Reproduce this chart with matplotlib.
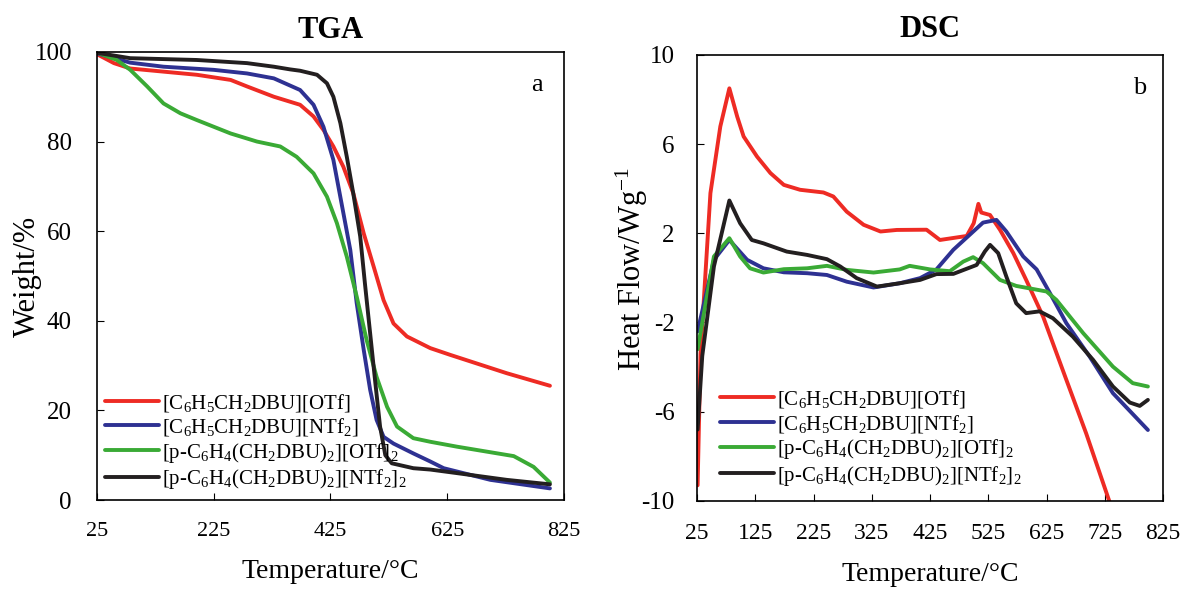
import numpy as np
import matplotlib.pyplot as plt

plt.rcParams['font.family'] = ['Liberation Serif', 'DejaVu Serif']
plt.rcParams['mathtext.fontset'] = 'custom'
plt.rcParams['mathtext.rm'] = 'Liberation Serif'
plt.rcParams['mathtext.it'] = 'Liberation Serif:italic'
plt.rcParams['axes.unicode_minus'] = False

labels = [r'[C$_6$H$_5$CH$_2$DBU][OTf]',
          r'[C$_6$H$_5$CH$_2$DBU][NTf$_2$]',
          r'[p-C$_6$H$_4$(CH$_2$DBU)$_2$][OTf]$_2$',
          r'[p-C$_6$H$_4$(CH$_2$DBU)$_2$][NTf$_2$]$_2$']
colors = ['#ee2b24', '#2e3192', '#3aaa35', '#231f20']

# TGA data (temperature in C, weight %)
tga_red_x = [25, 54, 82, 139, 196, 254, 282, 328, 373, 396, 413, 430, 447, 464, 482, 499, 516, 533, 556,
             596, 630, 727, 801]
tga_red_y = [99.5, 97.5, 96.3, 95.6, 94.9, 93.75, 92.3, 90, 88.2, 85.6, 82.6, 78.9, 74.4, 68.5, 59.5, 52.1,
             44.6, 39.4, 36.5, 33.9, 32.4, 28.3, 25.5]
tga_blue_x = [25, 82, 139, 225, 282, 328, 373, 396, 413, 430, 444, 459, 470, 482, 493, 504, 516, 533, 567,
              596, 619, 699, 801]
tga_blue_y = [99.7, 97.6, 96.7, 96, 95.2, 94.1, 91.5, 88.2, 83.3, 75.9, 66.2, 55.8, 43.9, 33.5, 24.6, 17.9,
              14.1, 12.6, 10.4, 8.6, 7.1, 4.5, 2.6]
tga_green_x = [25, 59, 82, 111, 139, 168, 196, 254, 299, 339, 367, 396, 419, 436, 453, 470, 487, 504, 522,
               539, 567, 596, 642, 739, 773, 801]
tga_green_y = [99.9, 98.2, 96, 92.3, 88.5, 86.3, 84.8, 81.8, 80, 78.9, 76.6, 72.9, 67.7, 61.8, 54.3, 45.4,
               35.7, 27.5, 20.8, 16.4, 13.8, 13, 11.9, 9.8, 7.4, 3.9]
tga_black_x = [25, 82, 196, 282, 328, 356, 373, 402, 419, 430, 442, 453, 464, 476, 484, 493, 502, 510, 519,
               530, 567, 596, 642, 727, 801]
tga_black_y = [99.8, 98.6, 98.2, 97.5, 96.7, 96.1, 95.8, 94.9, 93, 90, 84.1, 76.6, 68.5, 58.8, 48.4, 37.2,
               26, 16.4, 10, 8.2, 7.1, 6.8, 6, 4.5, 3.5]

# DSC data (temperature in C, heat flow W/g)
dsc_red_x = [26, 31, 48, 65, 80.5, 94, 105, 128, 151, 174, 202, 242, 259, 282, 311, 340, 368, 419, 442,
             488, 500, 508, 513, 528, 545, 568, 590, 619, 659, 693, 733, 740]
dsc_red_y = [-9.3, -3.4, 3.8, 6.79, 8.5, 7.23, 6.34, 5.44, 4.7, 4.17, 3.95, 3.83, 3.65, 2.97, 2.38, 2.08,
             2.15, 2.16, 1.70, 1.88, 2.45, 3.32, 2.93, 2.82, 2.16, 1.11, -0.09, -1.73, -4.57, -6.97, -10.03, -10.6]
dsc_blue_x = [26, 54, 80.5, 111, 139, 174, 214, 248, 282, 328, 373, 408, 436, 465, 493, 516, 539, 556, 585,
              608, 631, 659, 699, 739, 799]
dsc_blue_y = [-2.4, 0.81, 1.70, 0.81, 0.43, 0.25, 0.21, 0.13, -0.17, -0.43, -0.24, -0.01, 0.38, 1.26, 1.93,
              2.48, 2.60, 2.08, 0.96, 0.38, -0.69, -2.03, -3.53, -5.17, -6.82]
dsc_green_x = [26, 54, 80.5, 99, 116, 139, 174, 214, 248, 282, 328, 373, 390, 425, 459, 482, 499, 516, 545,
               573, 625, 642, 688, 739, 773, 799]
dsc_green_y = [-3.2, 0.96, 1.78, 0.96, 0.43, 0.24, 0.39, 0.43, 0.54, 0.36, 0.24, 0.38, 0.54, 0.38, 0.30, 0.73,
               0.93, 0.66, -0.09, -0.36, -0.61, -0.99, -2.48, -3.98, -4.72, -4.87]
dsc_black_x = [26, 34, 54, 80.5, 99, 119, 139, 179, 214, 248, 271, 299, 334, 373, 408, 436, 465, 505, 519,
               528, 542, 556, 573, 590, 613, 636, 670, 705, 739, 768, 785, 799]
dsc_black_y = [-6.8, -3.5, 0.51, 3.47, 2.45, 1.70, 1.55, 1.18, 1.03, 0.84, 0.51, -0.01, -0.39, -0.24, -0.09,
               0.17, 0.18, 0.58, 1.18, 1.48, 1.11, 0.06, -1.14, -1.58, -1.5, -1.81, -2.63, -3.68, -4.87,
               -5.59, -5.74, -5.47]

fig = plt.figure(figsize=(11.84, 5.90), dpi=100)
ax1 = fig.add_axes([0.0819, 0.1525, 0.3944, 0.7595])
ax2 = fig.add_axes([0.5887, 0.151, 0.3936, 0.756])

tga = [(tga_red_x, tga_red_y), (tga_blue_x, tga_blue_y), (tga_green_x, tga_green_y), (tga_black_x, tga_black_y)]
dsc = [(dsc_red_x, dsc_red_y), (dsc_blue_x, dsc_blue_y), (dsc_green_x, dsc_green_y), (dsc_black_x, dsc_black_y)]

for (x, y), c, lab in zip(tga, colors, labels):
    ax1.plot(x, y, color=c, lw=2.8, label=lab, solid_capstyle='round', solid_joinstyle='round')
for (x, y), c, lab in zip(dsc, colors, labels):
    ax2.plot(x, y, color=c, lw=2.8, label=lab, solid_capstyle='round', solid_joinstyle='round')

ax1.set_xlim(25, 825)
ax1.set_ylim(0, 100)
ax1.set_xticks([25, 225, 425, 625, 825])
ax1.set_yticks([0, 20, 40, 60, 80, 100])
ax1.set_xlabel('Temperature/°C', fontsize=20, labelpad=13)
ax1.set_ylabel('Weight/%', fontsize=22)
ax1.yaxis.set_label_coords(-0.117, 0.5)
ax1.set_title('TGA', fontsize=22, fontweight='bold', pad=10)
ax1.text(0.955, 0.95, 'a', transform=ax1.transAxes, fontsize=19, ha='right', va='top')
ax1.tick_params(axis='x', labelsize=16, pad=16)
ax1.tick_params(axis='y', labelsize=18, pad=18)

ax2.set_xlim(25, 825)
ax2.set_ylim(-10, 10)
ax2.set_xticks(np.arange(25, 826, 100))
ax2.set_yticks([-10, -6, -2, 2, 6, 10])
ax2.set_xlabel('Temperature/°C', fontsize=20, labelpad=13)
ax2.set_ylabel('Heat Flow/Wg$^{-1}$', fontsize=22)
ax2.yaxis.set_label_coords(-0.101, 0.52)
ax2.set_title('DSC', fontsize=22, fontweight='bold', pad=13)
ax2.text(0.965, 0.95, 'b', transform=ax2.transAxes, fontsize=19, ha='right', va='top')
ax2.tick_params(axis='x', labelsize=17, pad=16)
ax2.tick_params(axis='y', labelsize=18, pad=16)

for ax in (ax1, ax2):
    ax.tick_params(direction='in', length=5, top=False, right=False)
    for s in ax.spines.values():
        s.set_linewidth(1.2)

ax1.legend(loc='lower left', frameon=False, fontsize=15, handlelength=2.6, handletextpad=0.15,
           labelspacing=0.12, borderpad=0, borderaxespad=0, bbox_to_anchor=(0.017, 0.02))
ax2.legend(loc='lower left', frameon=False, fontsize=15, handlelength=2.6, handletextpad=0.15,
           labelspacing=0.12, borderpad=0, borderaxespad=0, bbox_to_anchor=(0.049, 0.03))

fig.savefig('out.png', dpi=100)
